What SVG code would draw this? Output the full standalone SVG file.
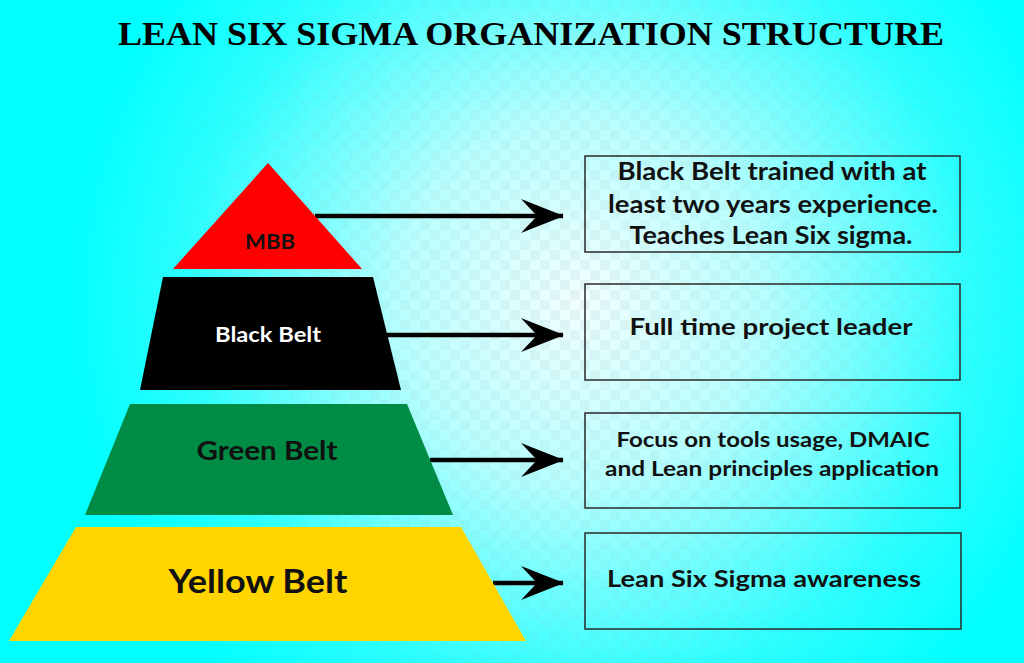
<svg xmlns="http://www.w3.org/2000/svg" width="1024" height="663" viewBox="0 0 1024 663">
  <defs>
    <radialGradient id="bg" cx="580" cy="300" r="520" gradientUnits="userSpaceOnUse">
      <stop offset="0" stop-color="#f2ffff"/>
      <stop offset="0.35" stop-color="#b8ffff"/>
      <stop offset="0.75" stop-color="#2cffff"/>
      <stop offset="1" stop-color="#00ffff"/>
    </radialGradient>
    <radialGradient id="fade" cx="580" cy="300" r="480" gradientUnits="userSpaceOnUse">
      <stop offset="0" stop-color="#fff"/>
      <stop offset="0.7" stop-color="#777"/>
      <stop offset="1" stop-color="#000"/>
    </radialGradient>
    <pattern id="checker" x="0" y="0" width="20" height="20" patternUnits="userSpaceOnUse">
      <rect x="0" y="0" width="10" height="10" fill="#8aa"/>
      <rect x="10" y="10" width="10" height="10" fill="#8aa"/>
    </pattern>
    <mask id="m">
      <rect width="1024" height="663" fill="url(#fade)"/>
    </mask>
    <marker id="head" viewBox="0 0 44 34" refX="42" refY="17" markerWidth="44" markerHeight="34" markerUnits="userSpaceOnUse" orient="auto">
      <path d="M0,0 L43,17 L0,34 L16,17 Z" fill="#000"/>
    </marker>
    <style>
      .conn { stroke:#000; stroke-width:4.5; fill:none; marker-end:url(#head); }
      .box { fill:none; stroke:#2a2a2a; stroke-width:1.5; }
      .lbl { font-family:Lato, "Liberation Sans", sans-serif; font-weight:bold; text-anchor:middle; }
      .desc { font-family:Lato, "Liberation Sans", sans-serif; font-weight:bold; fill:#111; text-anchor:middle; }
    </style>
  </defs>

  <rect width="1024" height="663" fill="url(#bg)"/>
  <rect width="1024" height="663" fill="url(#checker)" opacity="0.12" mask="url(#m)"/>

  <text x="531" y="45" font-family="'Liberation Serif', serif" font-weight="bold" font-size="34" text-anchor="middle" fill="#000" textLength="826" lengthAdjust="spacingAndGlyphs">LEAN SIX SIGMA ORGANIZATION STRUCTURE</text>

  <g id="connectors">
    <line class="conn" x1="315" y1="216" x2="563" y2="216"/>
    <line class="conn" x1="386" y1="335" x2="563" y2="335"/>
    <line class="conn" x1="430" y1="460" x2="563" y2="460"/>
    <line class="conn" x1="493" y1="583" x2="563" y2="583"/>
  </g>

  <g id="mbb">
    <polygon points="268,163 362,269 173,269" fill="#ff0000"/>
    <text class="lbl" x="270" y="249" font-size="20" fill="#111" textLength="50" lengthAdjust="spacingAndGlyphs">MBB</text>
  </g>
  <g id="black-belt">
    <polygon points="163,277 373,277 401,390 140,390" fill="#000"/>
    <text class="lbl" x="268" y="342" font-size="20" fill="#fff" textLength="106" lengthAdjust="spacingAndGlyphs">Black Belt</text>
  </g>
  <g id="green-belt">
    <polygon points="130,404 407,404 453,515 85,515" fill="#008c44"/>
    <text class="lbl" x="267" y="460" font-size="26" fill="#111" textLength="141" lengthAdjust="spacingAndGlyphs">Green Belt</text>
  </g>
  <g id="yellow-belt">
    <polygon points="76,527 461,527 526,641 9,641" fill="#ffd500"/>
    <text class="lbl" x="258" y="593" font-size="32" fill="#111" textLength="179" lengthAdjust="spacingAndGlyphs">Yellow Belt</text>
  </g>

  <g id="desc-mbb">
    <rect class="box" x="585" y="156" width="375" height="96"/>
    <text class="desc" x="772" y="180" font-size="24" textLength="309" lengthAdjust="spacingAndGlyphs">Black Belt trained with at</text>
    <text class="desc" x="773" y="213" font-size="24" textLength="330" lengthAdjust="spacingAndGlyphs">least two years experience.</text>
    <text class="desc" x="771" y="244" font-size="24" textLength="283" lengthAdjust="spacingAndGlyphs">Teaches Lean Six sigma.</text>
  </g>
  <g id="desc-black">
    <rect class="box" x="585" y="284" width="375" height="96"/>
    <text class="desc" x="771" y="335" font-size="23" textLength="283" lengthAdjust="spacingAndGlyphs">Full time project leader</text>
  </g>
  <g id="desc-green">
    <rect class="box" x="585" y="413" width="375" height="95"/>
    <text class="desc" x="773" y="447" font-size="21" textLength="313" lengthAdjust="spacingAndGlyphs">Focus on tools usage, DMAIC</text>
    <text class="desc" x="772" y="476" font-size="21" textLength="334" lengthAdjust="spacingAndGlyphs">and Lean principles application</text>
  </g>
  <g id="desc-yellow">
    <rect class="box" x="585" y="533" width="376" height="96"/>
    <text class="desc" x="607" y="587" font-size="23" style="text-anchor:start" textLength="314" lengthAdjust="spacingAndGlyphs">Lean Six Sigma awareness</text>
  </g>
</svg>
